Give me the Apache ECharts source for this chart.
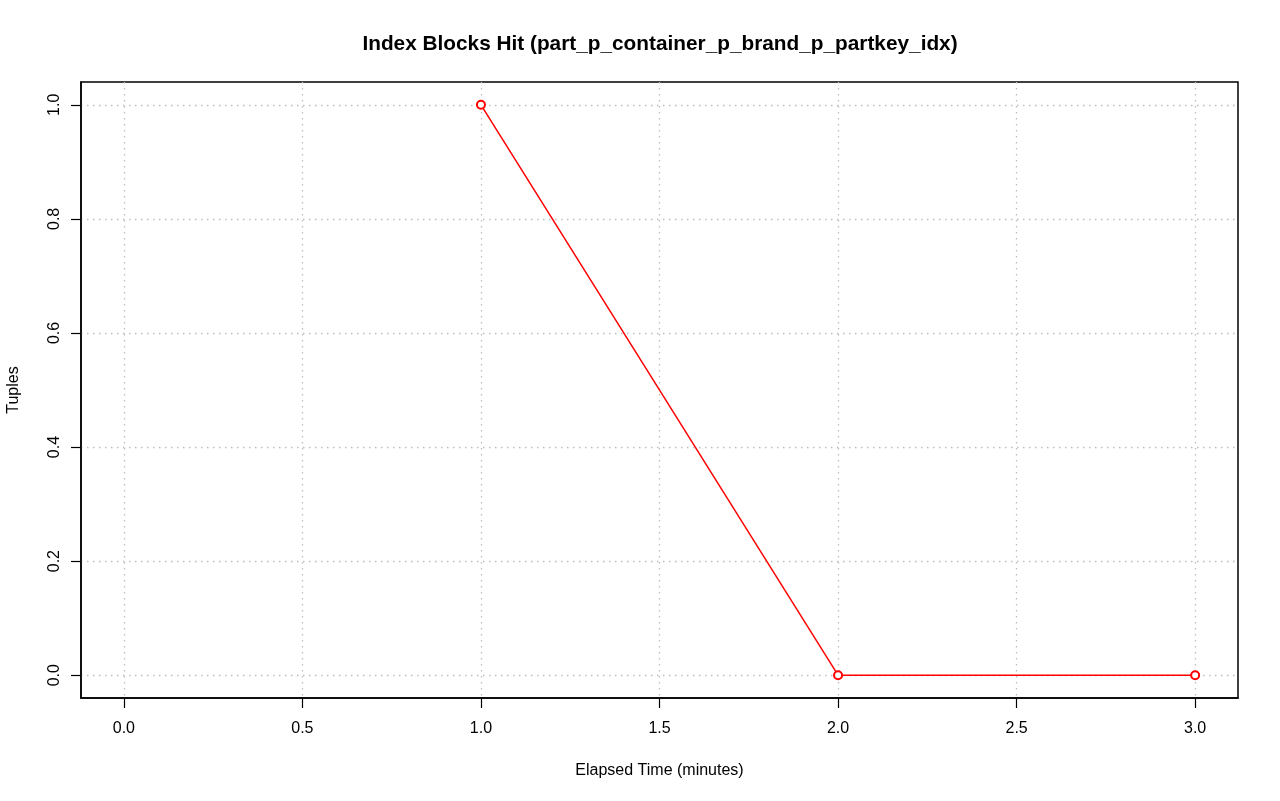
<!DOCTYPE html>
<html><head><meta charset="utf-8">
<script src="https://cdn.jsdelivr.net/npm/echarts@6/dist/echarts.min.js"></script>
<style>html,body{margin:0;padding:0;background:#fff}#c{width:1280px;height:801px}</style>
</head><body><div id="c"></div>
<script>
const titleText = 'Index Blocks Hit (part_p_container_p_brand_p_partkey_idx)';
const xName = 'Elapsed Time (minutes)';
const yName = 'Tuples';
const xValues = [1, 2, 3];
const yValues = [1, 0, 0];
const xTicks = [0, 0.5, 1, 1.5, 2, 2.5, 3];
const yTicks = [0, 0.2, 0.4, 0.6, 0.8, 1];

const chart = echarts.init(document.getElementById('c'));
const font = 'Liberation Sans, Arial, sans-serif';
chart.setOption({
  animation: false,
  title: {
    text: titleText, left: 655, top: 29, textAlign: 'center',
    textStyle: {fontFamily: font, fontSize: 20.8, fontWeight: 'bold', color: '#000'}
  },
  grid: {left: 81, right: 42, top: 82, bottom: 103, containLabel: false, outerBoundsMode: 'none',
    show: true, borderColor: '#000', borderWidth: 1.5, backgroundColor: 'transparent'},
  xAxis: {
    type: 'value', min: -0.12, max: 3.12,
    name: xName, nameLocation: 'middle', nameGap: 65,
    nameTextStyle: {fontFamily: font, fontSize: 16, color: '#000'},
    axisLine: {show: true, onZero: false, lineStyle: {color: '#000', width: 1.5}},
    axisTick: {show: true, inside: false, length: 10, customValues: xTicks, lineStyle: {color: '#000', width: 1.2}},
    axisLabel: {customValues: xTicks, margin: 23, fontFamily: font, fontSize: 16, color: '#000',
      formatter: v => v.toFixed(1)},
    splitLine: {show: true, lineStyle: {color: '#bdbdbd', type: [1.5, 4.5], width: 1.3}}
  },
  yAxis: {
    type: 'value', min: -0.04, max: 1.04,
    name: yName, nameLocation: 'middle', nameGap: 59, nameRotate: 90,
    nameTextStyle: {fontFamily: font, fontSize: 16, color: '#000'},
    axisLine: {show: true, onZero: false, lineStyle: {color: '#000', width: 1.5}},
    axisTick: {show: true, inside: false, length: 10, customValues: yTicks, lineStyle: {color: '#000', width: 1.2}},
    axisLabel: {customValues: yTicks, rotate: 90, margin: 18, fontFamily: font, fontSize: 16, color: '#000',
      formatter: v => v.toFixed(1)},
    splitLine: {show: true, lineStyle: {color: '#bdbdbd', type: [1.5, 4.5], width: 1.3}}
  },
  series: [{
    type: 'line',
    data: xValues.map((x, i) => [x, yValues[i]]),
    symbol: 'emptyCircle', symbolSize: 8,
    lineStyle: {color: '#ff0000', width: 1.5},
    itemStyle: {color: '#ff0000', borderColor: '#ff0000', borderWidth: 1.5},
    clip: false
  }]
});
</script></body></html>
